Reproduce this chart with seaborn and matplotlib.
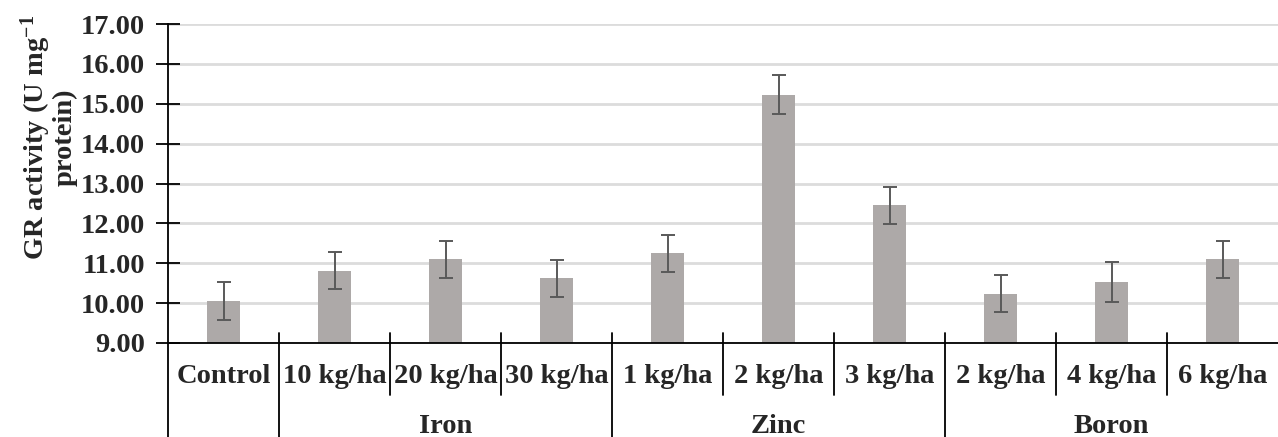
import matplotlib
matplotlib.use("Agg")
import matplotlib.pyplot as plt
import matplotlib.transforms as mtransforms
import numpy as np
import pandas as pd
import seaborn as sns

# GR activity by micronutrient treatment
groups = ["", "Iron", "Iron", "Iron", "Zinc", "Zinc", "Zinc", "Boron", "Boron", "Boron"]
doses = ["Control", "10 kg/ha", "20 kg/ha", "30 kg/ha", "1 kg/ha", "2 kg/ha",
         "3 kg/ha", "2 kg/ha", "4 kg/ha", "6 kg/ha"]
gr_activity = [10.05, 10.81, 11.10, 10.62, 11.25, 15.23, 12.45, 10.24, 10.53, 11.10]
gr_error = [0.48, 0.46, 0.46, 0.47, 0.46, 0.48, 0.46, 0.46, 0.50, 0.46]
y_ticks = [9, 10, 11, 12, 13, 14, 15, 16, 17]

sns.set_style("white")
plt.rcParams["font.family"] = ["Liberation Serif", "DejaVu Serif"]
plt.rcParams["font.weight"] = "bold"
plt.rcParams["mathtext.fontset"] = "custom"
plt.rcParams["mathtext.rm"] = "Liberation Serif:bold"
plt.rcParams["mathtext.it"] = "Liberation Serif:bold"
plt.rcParams["mathtext.bf"] = "Liberation Serif:bold"

FS = 20.5

df = pd.DataFrame({
    "group": groups,
    "dose": doses,
    "key": [f"{g} {d}".strip() for g, d in zip(groups, doses)],
    "value": gr_activity,
    "err": gr_error,
})

fig = plt.figure(figsize=(12.78, 4.37), dpi=100)
ax = fig.add_axes([168 / 1278, 94 / 437, 1110 / 1278, 319 / 437])

sns.barplot(data=df, x="key", y="value", order=list(df["key"]), color="#ADA9A8",
            saturation=1, width=0.3, errorbar=None, ax=ax, zorder=2)
for bar in ax.patches:
    bar.set_edgecolor("none")

centers = [b.get_x() + b.get_width() / 2 for b in ax.patches]
ax.errorbar(centers, df["value"], yerr=df["err"], fmt="none", ecolor="#595959",
            elinewidth=1.4, capsize=5, capthick=1.4, zorder=3)

ax.set_ylim(9, 17)
ax.set_xlim(-0.5, len(doses) - 0.5)
ax.set_yticks(y_ticks)
ax.set_yticklabels([f"{v:.2f}" for v in y_ticks], fontsize=FS, fontweight="bold")
ax.yaxis.grid(True, color="#DCDCDC", linewidth=2, zorder=0)
ax.set_axisbelow(True)
ax.tick_params(axis="y", direction="inout", length=17, width=1.3, color="black", pad=8,
               left=True)
ax.set_xticks([])
ax.set_xlabel("")
ax.set_ylabel("")

for side in ["top", "right"]:
    ax.spines[side].set_visible(False)
for side in ["left", "bottom"]:
    ax.spines[side].set_color("black")
    ax.spines[side].set_linewidth(1.3)

# Hierarchical category axis below the plot
trans = mtransforms.blended_transform_factory(ax.transData, ax.transAxes)
for x, d in zip(centers, df["dose"]):
    ax.text(x, -0.105, d, transform=trans, ha="center", va="center",
            fontsize=FS, fontweight="bold")

group_names = []
for g in groups:
    if g and g not in group_names:
        group_names.append(g)
for g in group_names:
    idx = [i for i, gg in enumerate(groups) if gg == g]
    xc = (centers[idx[0]] + centers[idx[-1]]) / 2
    ax.text(xc, -0.262, g, transform=trans, ha="center", va="center",
            fontsize=FS, fontweight="bold")

top = 10 / 319
bottom_inner = -52 / 319
bottom_outer = -100 / 319
for i in range(1, len(doses)):
    boundary = i - 0.5
    outer = groups[i] != groups[i - 1]
    ax.plot([boundary, boundary], [top, bottom_outer if outer else bottom_inner],
            transform=trans, color="black", linewidth=1.3, clip_on=False)
ax.plot([-0.5, -0.5], [0, bottom_outer], transform=trans, color="black",
        linewidth=1.3, clip_on=False)

fig.text(48 / 1278, 1 - 137 / 437, "GR activity (U mg$^{-1}$\nprotein)",
         rotation=90, ha="center", va="center", fontsize=FS, fontweight="bold",
         multialignment="center", linespacing=0.95)

fig.savefig("out.png", dpi=100)
